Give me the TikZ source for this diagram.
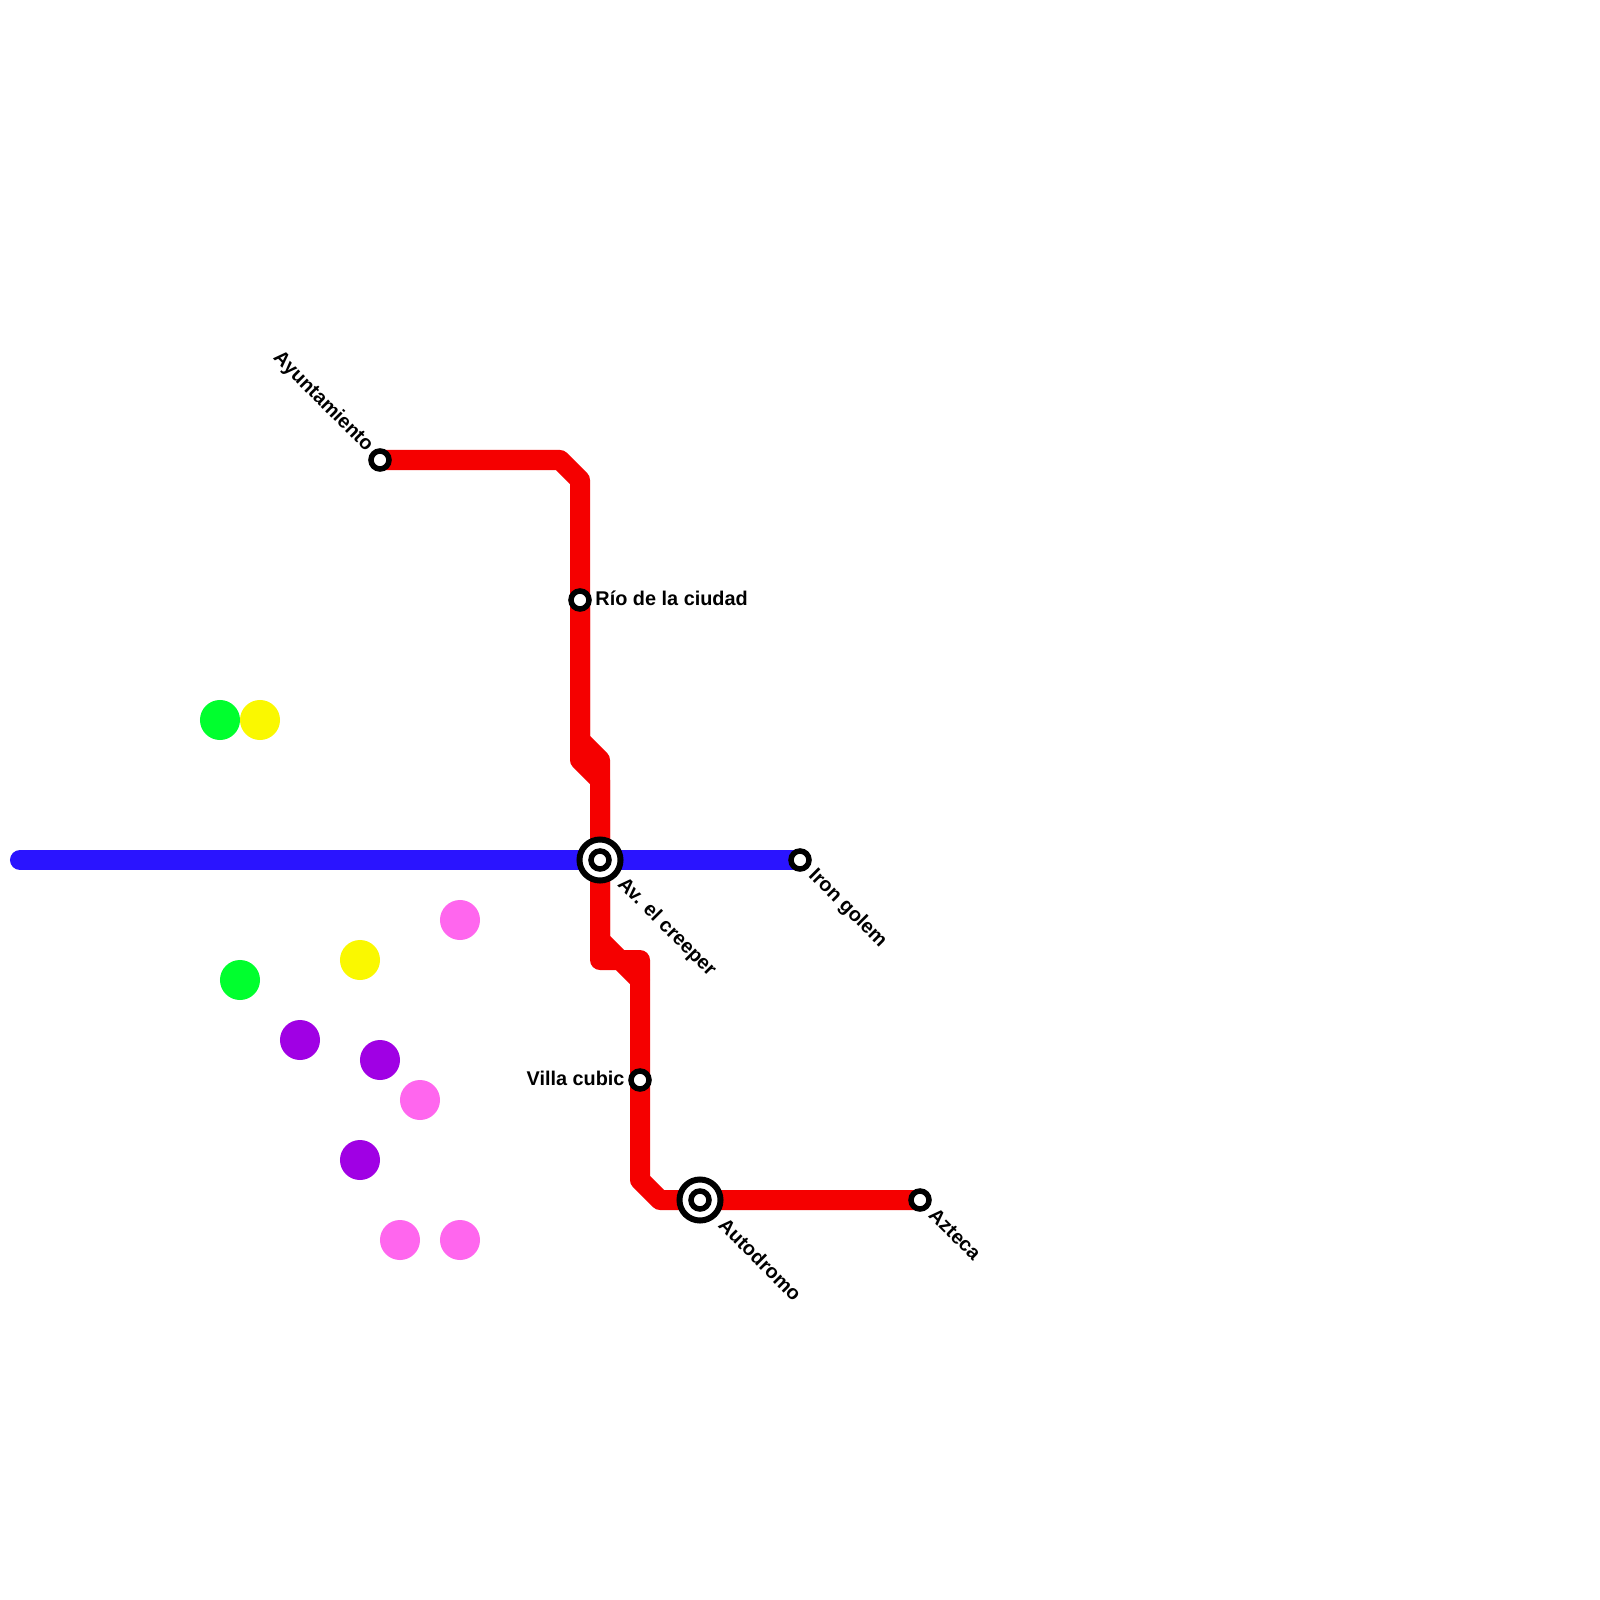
\documentclass[tikz,border=0pt]{standalone}
\usepackage{fontspec}
\setmainfont{Liberation Sans}
\usetikzlibrary{positioning}
\definecolor{linered}{HTML}{F50000}
\definecolor{lineblue}{HTML}{2A14FF}
\definecolor{dotgreen}{HTML}{00FF2E}
\definecolor{dotyellow}{HTML}{FAF800}
\definecolor{dotpink}{HTML}{FF66EE}
\definecolor{dotpurple}{HTML}{A000E4}

\begin{document}
\begin{tikzpicture}[
  x=0.01cm, y=-0.01cm,
  track/.style={line width=0.2cm, draw=#1, line join=round, line cap=round},
  blob/.style={circle, fill=#1, minimum size=0.4cm, inner sep=0pt},
  halt/.style={circle, draw=black, line width=0.055cm, fill=white,
    minimum size=0.18cm, inner sep=0pt},
  hub/.style={circle, draw=black, line width=0.06cm, fill=white,
    minimum size=0.41cm, inner sep=0pt},
  lbl/.style={font=\fontsize{5.65pt}{6.5pt}\selectfont\bfseries, inner sep=0pt}
]
\useasboundingbox (0,0) rectangle (1600,1600);

% Bends
\coordinate (a1) at (560,460);
\coordinate (a2) at (580,480);
\coordinate (b1) at (580,740);
\coordinate (b2) at (600,760);
\coordinate (b3) at (580,760);
\coordinate (b4) at (600,780);
\coordinate (c1) at (600,940);
\coordinate (c2) at (620,960);
\coordinate (c3) at (640,960);
\coordinate (c4) at (600,960);
\coordinate (c5) at (640,980);
\coordinate (d1) at (640,1180);
\coordinate (d2) at (660,1200);
\coordinate (west) at (20,860);

% Stations (positions only)
\coordinate (ayto) at (380,460);
\coordinate (rio) at (580,600);
\coordinate (creeper) at (600,860);
\coordinate (golem) at (800,860);
\coordinate (villa) at (640,1080);
\coordinate (autod) at (700,1200);
\coordinate (azteca) at (920,1200);

% Lines
\draw[track=lineblue] (west) -- (golem);
\draw[track=linered] (ayto) -- (a1) -- (a2) -- (rio) -- (b1) -- (b2) -- (creeper);
\draw[track=linered] (rio) -- (b3) -- (b4) -- (creeper);
\draw[track=linered] (creeper) -- (c4) -- (c2) -- (c5) -- (villa);
\draw[track=linered] (creeper) -- (c1) -- (c2) -- (c3) -- (c5);
\draw[track=linered] (villa) -- (d1) -- (d2) -- (autod) -- (azteca);

% Loose dots
\node[blob=dotgreen] (g1) at (220,720) {};
\node[blob=dotyellow] (y1) at (260,720) {};
\node[blob=dotgreen] (g2) at (240,980) {};
\node[blob=dotyellow] (y2) at (360,960) {};
\node[blob=dotpink] (k1) at (460,920) {};
\node[blob=dotpurple] (v1) at (300,1040) {};
\node[blob=dotpurple] (v2) at (380,1060) {};
\node[blob=dotpink] (k2) at (420,1100) {};
\node[blob=dotpurple] (v3) at (360,1160) {};
\node[blob=dotpink] (k3) at (400,1240) {};
\node[blob=dotpink] (k4) at (460,1240) {};

% Station marks
\node[halt] (s1) at (ayto) {};
\node[halt] (s2) at (rio) {};
\node[hub] (s3) at (creeper) {};
\node[halt] (s3c) at (creeper) {};
\node[halt] (s4) at (golem) {};
\node[halt] (s5) at (villa) {};
\node[hub] (s6) at (autod) {};
\node[halt] (s6c) at (autod) {};
\node[halt] (s7) at (azteca) {};

% Names
\node[lbl, rotate=-45, anchor=east] (t1) at (370,449) {Ayuntamiento};
\node[lbl, right=0.03cm of s2, yshift=0.02cm] (t2) {Río de la ciudad};
\node[lbl, rotate=-45, anchor=west] (t3) at (620,881) {Av. el creeper};
\node[lbl, rotate=-45, anchor=west] (t4) at (811,872) {Iron golem};
\node[lbl, left=0.03cm of s5, yshift=0.02cm] (t5) {Villa cubic};
\node[lbl, rotate=-45, anchor=west] (t6) at (722,1221) {Autodromo};
\node[lbl, rotate=-45, anchor=west] (t7) at (932,1211) {Azteca};

\end{tikzpicture}
\end{document}
